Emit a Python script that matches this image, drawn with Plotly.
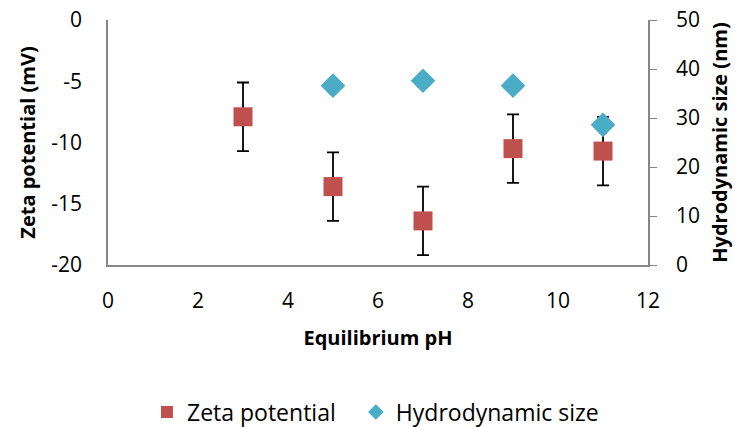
import plotly.graph_objects as go

ph = [3, 5, 7, 9, 11]
zeta = [-7.9, -13.6, -16.4, -10.5, -10.7]
zeta_err = [2.8, 2.8, 2.8, 2.8, 2.8]
ph_size = [5, 7, 9, 11]
size = [36.6, 37.6, 36.6, 28.6]
size_err = [0.8, 0.8, 0.8, 1.6]
zeta_ticks = [0, -5, -10, -15, -20]
zeta_ticktext = ["0", "-5", "-10", "-15", "-20"]

FONT = "Open Sans"
AX = "#868686"

fig = go.Figure()
fig.add_trace(go.Scatter(
    x=ph, y=zeta, mode="markers", name="Zeta potential",
    marker=dict(symbol="square", size=19, color="#C0504D"),
    error_y=dict(type="data", array=zeta_err, color="black", thickness=1.8, width=6),
    yaxis="y", legend="legend"))
fig.add_trace(go.Scatter(
    x=ph_size, y=size, mode="markers", name="Hydrodynamic size",
    marker=dict(symbol="diamond", size=19, color="#4BACC6"),
    error_y=dict(type="data", array=size_err, color="black", thickness=1.5, width=4),
    yaxis="y2", legend="legend2"))

leg_common = dict(orientation="h", y=-0.6, yanchor="middle", xanchor="left",
                  font=dict(size=23), itemsizing="constant", itemwidth=30,
                  borderwidth=0, bgcolor="rgba(0,0,0,0)")

fig.update_layout(
    width=738, height=427,
    margin=dict(l=108, r=90, t=20, b=162, autoexpand=False),
    paper_bgcolor="white", plot_bgcolor="white",
    font=dict(family=FONT, size=21, color="black"),
    showlegend=True,
    legend=dict(x=0.0722, **leg_common),
    legend2=dict(x=0.459, **leg_common),
    xaxis=dict(range=[0, 12], dtick=2, showline=True, linecolor=AX, linewidth=1.5,
               ticks="", showgrid=False, zeroline=False, ticklabelstandoff=16,
               tickfont=dict(size=21), automargin=False,
               title=dict(text="<b>Equilibrium pH</b>", font=dict(size=20), standoff=18)),
    yaxis=dict(range=[-20, 0], tickvals=zeta_ticks, ticktext=zeta_ticktext,
               showline=True, linecolor=AX, linewidth=1.5, automargin=False,
               ticks="", showgrid=False, zeroline=False, ticklabelstandoff=20,
               tickfont=dict(size=21),
               title=dict(text="<b>Zeta potential (mV)</b>", font=dict(size=20), standoff=10)),
    yaxis2=dict(range=[0, 50], dtick=10, overlaying="y", side="right", showline=True,
                linecolor=AX, linewidth=1.5, ticks="outside", ticklen=7, tickcolor=AX,
                showgrid=False, zeroline=False, ticklabelstandoff=15, automargin=False,
                tickfont=dict(size=21),
                title=dict(text="<b>Hydrodynamic size (nm)</b>", font=dict(size=20), standoff=14)),
)

fig.write_html("out.html", config={"displayModeBar": False},
               post_script="document.body.style.margin='0';")
